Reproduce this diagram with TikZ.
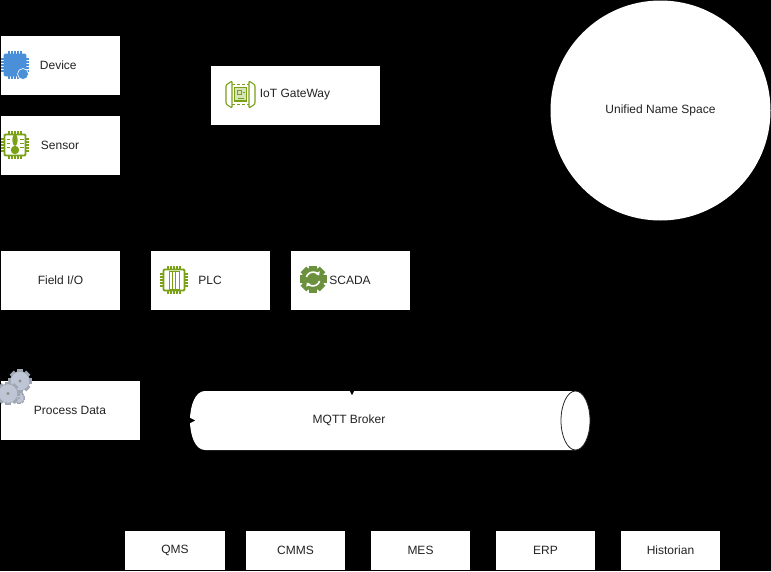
\documentclass[tikz,border=0pt]{standalone}
\usepackage{xcolor,tikz,fontspec}
\usetikzlibrary{arrows.meta,positioning,calc,shapes.geometric}
\setmainfont{Liberation Sans}
\definecolor{ink}{RGB}{35,35,35}
\definecolor{leaf}{RGB}{122,161,22}
\definecolor{moss}{RGB}{108,145,62}
\definecolor{sky}{RGB}{74,144,217}
\definecolor{steel}{RGB}{190,197,212}
\tikzset{
  box/.style={draw=none,fill=white,minimum height=59pt,inner sep=0pt,font=\fontsize{12}{14}\selectfont,text=ink},
  app/.style={box,minimum height=39pt},
  wire/.style={-{Triangle[length=6pt,width=6pt]},draw=black},
  lab/.style={font=\fontsize{12}{14}\selectfont,text=ink,inner sep=0pt},
  pics/chip/.style={code={
    \foreach \i in {-4,-2,0,2,4}{
      \draw[#1,line width=1.2pt] (\i*1.5,-14)--(\i*1.5,14) (-14,\i*1.5)--(14,\i*1.5);
    }
    \draw[#1,line width=1.8pt,fill=white,rounded corners=1pt] (-10.5,-10.5) rectangle (10.5,10.5);
  }},
  pics/cog/.style={code={
    \foreach \a in {0,45,...,315}{
      \fill[#1!85!black,rotate=\a] (-.28,.85) rectangle (.28,1.12);
    }
    \fill[#1,draw=#1!80!black,line width=.4pt] (0,0) circle (.92);
    \fill[black!45] (0,0) circle (.16);
  }}
}
\begin{document}
\begin{tikzpicture}[x=1pt,y=-1pt]
  \useasboundingbox[fill=black] (0,0) rectangle (771,571);

  % sources
  \node[box,minimum width=119pt] (device) at (60.5,65.5) {};
  \node[lab] (devicetxt) at (58.3,65) {Device};
  \node[box,minimum width=119pt] (sensor) at (60.5,145.5) {};
  \node[lab] (sensortxt) at (60,145) {Sensor};
  \node[box,minimum width=169pt] (gateway) at (295.5,95.5) {};
  \node[lab] (gatewaytxt) at (295,95) {IoT GateWay};
  \node[box,minimum width=119pt] (fieldio) at (60.5,280.5) {Field I/O};
  \node[box,minimum width=119pt] (plc) at (210.5,280.5) {};
  \node[lab] (plctxt) at (210,280) {PLC};
  \node[box,minimum width=119pt] (scada) at (350.5,280.5) {};
  \node[lab] (scadatxt) at (350,280) {SCADA};
  \node[box,minimum width=139pt] (process) at (70.5,410.5) {};
  \node[lab] (processtxt) at (70,410) {Process Data};

  \node[circle,fill=white,minimum size=220pt,inner sep=0pt,lab] (uns) at (660.5,110.5) {Unified Name Space};

  % broker
  \path[fill=white] (205,391)--(575.5,391)--(575.5,450)--(205,450)
    .. controls (195,450) and (190,435) .. (190,420.5) .. controls (190,406) and (195,391) .. (205,391)--cycle;
  \node[ellipse,draw=ink,fill=white,line width=.8pt,minimum width=29pt,minimum height=59pt,inner sep=0pt] (brokerend) at (575.5,420.5) {};
  \coordinate (brokertop) at (352,395);
  \coordinate (brokerleft) at (195,420.5);
  \node[lab] (broker) at (349,420.5) {MQTT Broker};

  % apps
  \node[app,minimum width=100pt] (qms) at (175,550.5) {QMS};
  \node[app,minimum width=99pt] (cmms) at (295.5,550.5) {CMMS};
  \node[app,minimum width=99pt] (mes) at (420.5,550.5) {MES};
  \node[app,minimum width=99pt] (erp) at (545.5,550.5) {ERP};
  \node[app,minimum width=99pt] (historian) at (670.5,550.5) {Historian};

  % black connectors, only their tips show
  \coordinate (scadaout) at (352,360);
  \coordinate (processout) at (160,420.5);
  \draw[wire] (scadaout)--(brokertop);
  \draw[wire] (processout)--(brokerleft);

  % icons
  \pic at (15,65) {chip=sky};
  \fill[sky,rounded corners=3pt] (15,65) ++(-11,-11) rectangle ++(22,22);
  \fill[sky,draw=white,line width=.6pt] (23,74) circle (5.5);

  \pic at (15,145) {chip=leaf};
  \fill[leaf] (15,140) ellipse (2.6 and 6);
  \fill[leaf] (15,150) circle (4.2);
  \foreach \yy in {139,143,147}{
    \draw[leaf,line width=1pt] (6.5,\yy)--(10,\yy) (20,\yy)--(23.5,\yy);
  }

  \pic at (174,280) {chip=leaf};
  \draw[leaf,line width=1pt] (169,271) rectangle (179,289) (172.3,271)--(172.3,289) (175.7,271)--(175.7,289);

  % gateway
  \draw[leaf,line width=1.1pt,rounded corners=1pt] (232,81)--(226,85)--(226,104)--(232,108)--cycle;
  \draw[leaf,line width=1.1pt,rounded corners=1pt] (249,81)--(255,85)--(255,104)--(249,108)--cycle;
  \draw[leaf,line width=.8pt,densely dashed] (232,84.5)--(249,84.5) (232,104)--(249,104);
  \draw[leaf,fill=leaf!30,line width=1.1pt] (234.5,87.5) rectangle (246.5,101);
  \draw[leaf,line width=1pt] (237,90.5) rectangle (241,94) (238,98)--(244,98) (243,92)--(245,92);

  % scada gear
  \foreach \a in {0,45,...,315}{
    \fill[moss,rotate around={\a:(313,279)}] (309,265.5) rectangle (317,269);
  }
  \fill[moss] (313,279) circle (11.5);
  \draw[white,line width=1.6pt,-{Triangle[length=3.5pt,width=5pt]}] (306.4,277) arc[start angle=-163,end angle=-30,radius=7];
  \draw[white,line width=1.6pt,-{Triangle[length=3.5pt,width=5pt]}] (319.6,281) arc[start angle=17,end angle=150,radius=7];

  % gears on process data
  \pic[scale=5.5] at (19,398) {cog=steel};
  \pic[scale=10.5] at (20,381) {cog=steel};
  \pic[scale=10.5] at (8,393.5) {cog=steel};
\end{tikzpicture}
\end{document}
